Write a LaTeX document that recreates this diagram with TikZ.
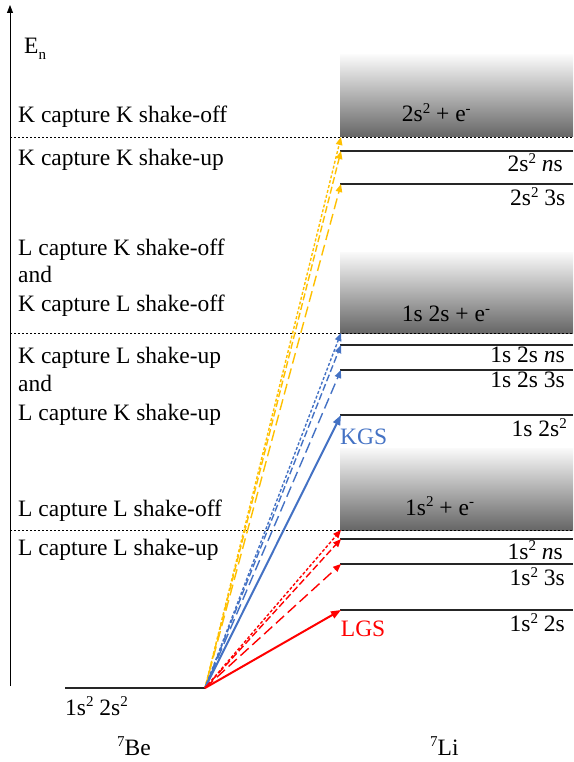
\documentclass[tikz,border=0pt]{standalone}
\usepackage{fontspec}
\setmainfont{Liberation Serif}
\usetikzlibrary{arrows.meta}
\definecolor{cyel}{HTML}{FFC000}
\definecolor{cblu}{HTML}{4472C4}
\definecolor{cred}{HTML}{FF0000}
\newcommand\spx[1]{\raisebox{0.36em}{\fontsize{15}{15}\selectfont #1}}
\newcommand\sbx[1]{\raisebox{-0.22em}{\fontsize{15}{15}\selectfont #1}}
\begin{document}
\begin{tikzpicture}[x=1pt,y=-1pt,
  txt/.style={font=\fontsize{23.5}{28}\selectfont, inner sep=0pt},
  lab/.style={txt, anchor=base west},
  rlab/.style={txt, anchor=base east},
  lvl/.style={line width=1.1pt, draw=black!85},
  sepline/.style={dash pattern=on 2pt off 2pt, line width=0.8pt},
  arr/.style={-{Triangle[length=8pt,width=6.5pt]}, line width=1.4pt},
  offd/.style={arr, dash pattern=on 3pt off 2pt},
  nsd/.style={arr, dash pattern=on 7pt off 3pt},
  thr/.style={arr, dash pattern=on 11pt off 5pt},
  gsd/.style={line width=2pt, -{Triangle[length=10pt,width=7.5pt]}},
  contbox/.style={top color=black!2, bottom color=black!60, draw=none}]
\useasboundingbox (0,0) rectangle (573,762);

% axis
\coordinate (axb) at (10,686);
\coordinate (axt) at (10,5);
\draw[line width=0.8pt, -{Triangle[length=8pt,width=6pt]}] (axb) -- (axt);
\node[lab] (En) at (24,54) {E\sbx{n}};

% continuum boxes
\shade[contbox] (340,55) rectangle (573,137);
\shade[contbox] (340,252) rectangle (573,333);
\shade[contbox] (340,448) rectangle (573,530);

% separator dashed lines
\coordinate (s1) at (341,137);
\coordinate (s2) at (341,333);
\coordinate (s3) at (341,530);
\draw[sepline] (10,137) -- (573,137);
\draw[sepline] (10,333) -- (573,333);
\draw[sepline] (10,530) -- (573,530);

% levels
\coordinate (y2) at (341,151);
\coordinate (y3) at (341,184);
\coordinate (b2) at (341,345);
\coordinate (b3) at (341,370);
\coordinate (bg) at (341,415);
\coordinate (r2) at (341,539);
\coordinate (r3) at (341,564);
\coordinate (rg) at (341,610);
\draw[lvl] (340,151) -- (573,151);
\draw[lvl] (340,184) -- (573,184);
\draw[lvl] (340,345) -- (573,345);
\draw[lvl] (340,370) -- (573,370);
\draw[lvl] (340,415) -- (573,415);
\draw[lvl] (340,539) -- (573,539);
\draw[lvl] (340,564) -- (573,564);
\draw[lvl] (340,610) -- (573,610);

% ground level Be
\coordinate (O) at (205,688);
\draw[lvl] (65,688) -- (O);

% left labels
\node[lab] (t1) at (18,122.3) {K capture K shake-off};
\node[lab] (t2) at (18,165) {K capture K shake-up};
\node[lab] (t3) at (18,255) {L capture K shake-off};
\node[lab] (t4) at (18,282.3) {and};
\node[lab] (t5) at (18,311.7) {K capture L shake-off};
\node[lab] (t6) at (18,363.3) {K capture L shake-up};
\node[lab] (t7) at (18,391.7) {and};
\node[lab] (t8) at (18,420) {L capture K shake-up};
\node[lab] (t9) at (18,516.7) {L capture L shake-off};
\node[lab] (t10) at (18,555.7) {L capture L shake-up};

% box labels
\node[lab] (c1) at (401.7,121.7) {2s\spx{2} + e\spx{-}};
\node[lab] (c2) at (401.7,321.7) {1s 2s + e\spx{-}};
\node[lab] (c3) at (405,515) {1s\spx{2} + e\spx{-}};

% right labels
\node[rlab] (l1) at (563,171.7) {2s\spx{2} \textit{n}s};
\node[rlab] (l2) at (565.5,205.7) {2s\spx{2} 3s};
\node[rlab] (l3) at (565,362) {1s 2s \textit{n}s};
\node[rlab] (l4) at (565,387.7) {1s 2s 3s};
\node[rlab] (l5) at (567,436.7) {1s 2s\spx{2}};
\node[rlab] (l6) at (563,559) {1s\spx{2} \textit{n}s};
\node[rlab] (l7) at (565,585.7) {1s\spx{2} 3s};
\node[rlab] (l8) at (565,631.7) {1s\spx{2} 2s};

% bottom labels
\node[lab] (be) at (65,715) {1s\spx{2} 2s\spx{2}};
\node[lab] (nBe) at (117,755) {\spx{7}Be};
\node[lab] (nLi) at (430,755) {\spx{7}Li};

% arrows
\draw[offd, cyel] (O) -- (s1);
\draw[nsd, cyel] (O) -- (y2);
\draw[thr, cyel] (O) -- (y3);
\draw[offd, cblu] (O) -- (s2);
\draw[nsd, cblu] (O) -- (b2);
\draw[thr, cblu] (O) -- (b3);
\draw[gsd, cblu] (O) -- (bg);
\draw[offd, cred] (O) -- (s3);
\draw[nsd, cred] (O) -- (r2);
\draw[thr, cred] (O) -- (r3);
\draw[gsd, cred] (O) -- (rg);
\node[lab, text=cblu] (kgs) at (340,444) {KGS};
\node[lab, text=cred] (lgs) at (340.7,636.7) {LGS};
\end{tikzpicture}
\end{document}
